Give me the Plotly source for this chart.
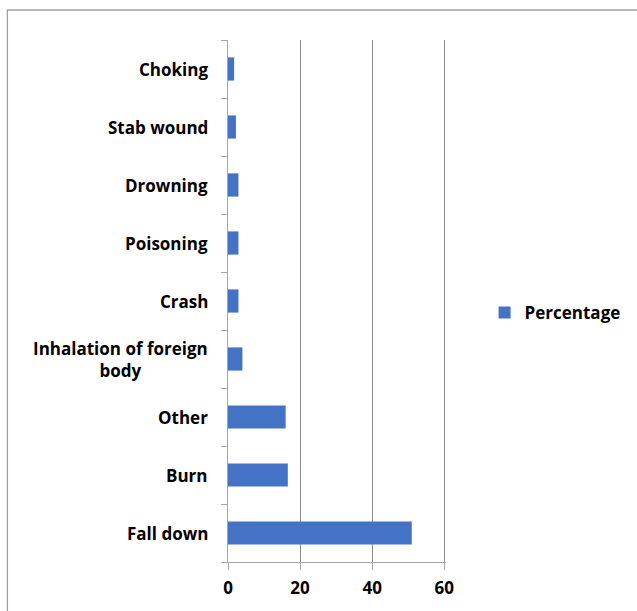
import plotly.graph_objects as go

# Causes of injury and their share (%), bottom to top
categories = ["Fall down", "Burn", "Other", "Inhalation of foreign<br>body",
              "Crash", "Poisoning", "Drowning", "Stab wound", "Choking"]
percentages = [51.0, 16.6, 16.0, 4.0, 2.9, 2.9, 2.9, 2.2, 1.7]
x_ticks = [0, 20, 40, 60]

FONT = "Open Sans"
FS = 17
BAR_COLOR = "#4472C4"
GRID = "#8C8C8C"
AXIS = "#A6A6A6"

fig = go.Figure()
fig.add_trace(go.Bar(
    y=categories, x=percentages, orientation="h",
    name="Percentage", marker=dict(color=BAR_COLOR, line=dict(width=0)),
    width=0.4,
))

# Category labels as centred multi-line text blocks to the left of the axis
for cat in categories:
    fig.add_annotation(
        x=0, xref="paper", y=cat, yref="y", text=cat, showarrow=False,
        xanchor="right", yanchor="middle", align="center", xshift=-18,
        font=dict(family=FONT, size=FS, color="#000000", weight="bold"),
    )

# Outer chart frame
fig.add_shape(type="rect", xref="paper", yref="paper",
              x0=-1.012, x1=2.0, y0=-1.0, y1=1.0575,
              line=dict(color="#A0A0A0", width=1.3), fillcolor="rgba(0,0,0,0)",
              layer="below")

fig.update_layout(
    width=637, height=611,
    margin=dict(l=228, r=191, t=40, b=49),
    paper_bgcolor="white", plot_bgcolor="white",
    showlegend=True,
    legend=dict(x=1.177, y=0.477, xanchor="left", yanchor="middle",
                font=dict(family=FONT, size=FS, color="#000000", weight="bold"),
                bgcolor="rgba(0,0,0,0)"),
    xaxis=dict(range=[0, 60.5], tickvals=x_ticks, showgrid=True, gridcolor=GRID,
               gridwidth=1, zeroline=False, showline=True, linecolor=AXIS,
               linewidth=1.3, ticks="outside", ticklen=7, tickcolor=AXIS,
               ticklabelstandoff=3,
               tickfont=dict(family=FONT, size=FS, color="#000000", weight="bold"),
               fixedrange=True),
    yaxis=dict(categoryorder="array", categoryarray=categories,
               showticklabels=False, showgrid=False, zeroline=False,
               showline=True, linecolor=AXIS, linewidth=1.3,
               ticks="outside", ticklen=6, tickcolor=AXIS,
               tickson="boundaries", fixedrange=True),
    bargap=0.6,
)

fig.write_html("out.html")
